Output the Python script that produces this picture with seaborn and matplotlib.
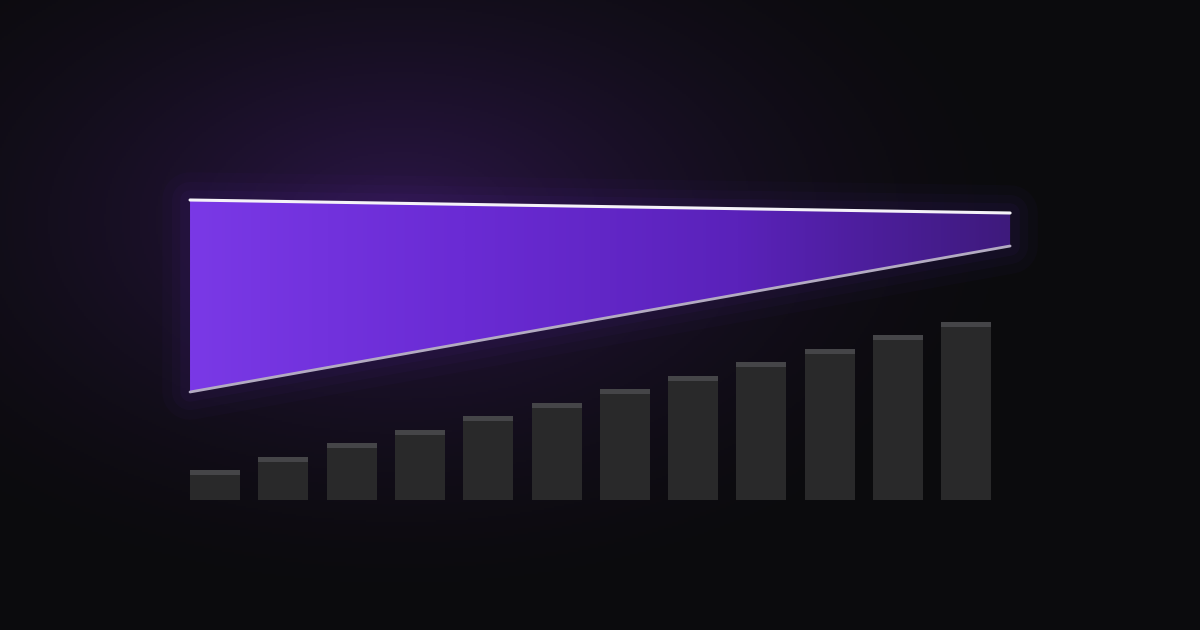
import numpy as np
import matplotlib.pyplot as plt
import seaborn as sns
from matplotlib.colors import LinearSegmentedColormap
from matplotlib.patches import Polygon

# Data
periods = list(range(1, 13))
bar_values = [30, 43, 57, 70, 84, 97, 111, 124, 138, 151, 165, 178]
span_x = [0.634, 12.64]          # start / end of the band (in periods)
band_upper = [300, 287]
band_lower = [108, 254]
cap_size = 5

sns.set_theme(style="dark")
plt.rcParams['font.family'] = ['DejaVu Sans']

fig = plt.figure(figsize=(12, 6.3), dpi=100)
ax = fig.add_axes([0, 0, 1, 1])
ax.set_xlim(-2.148, 15.42)
ax.set_ylim(-130, 500)
ax.axis("off")

# background with radial purple glow
gx, gy = np.meshgrid(np.linspace(-2.148, 15.42, 600), np.linspace(-130, 500, 315))
px = (gx + 2.148) / 17.568 * 1200
py = (500 - gy)
r = np.sqrt(((px - 400) / 660) ** 2 + ((py - 220) / 400) ** 2)
glow = np.clip(1 - r, 0, 1) ** 1.7
bg = np.zeros(gx.shape + (3,))
base = np.array([11, 11, 13]) / 255
hot = np.array([44, 22, 72]) / 255
bg[:] = base + glow[..., None] * (hot - base)
ax.imshow(bg, extent=(-2.148, 15.42, -130, 500), origin="lower", aspect="auto", zorder=0)

# bars: cap colour first, body on top
sns.barplot(x=periods, y=bar_values, native_scale=True, width=0.732,
            color="#454548", saturation=1, linewidth=0, edgecolor="none", ax=ax, zorder=2)
sns.barplot(x=periods, y=[v - cap_size for v in bar_values], native_scale=True, width=0.732,
            color="#29292a", saturation=1, linewidth=0, edgecolor="none", ax=ax, zorder=3)
ax.set_xlim(-2.148, 15.42)
ax.set_ylim(-130, 500)
ax.axis("off")

# soft glow under the band
poly_pts = [(span_x[0], band_upper[0]), (span_x[1], band_upper[1]),
            (span_x[1], band_lower[1]), (span_x[0], band_lower[0])]
for lw, a in [(40, 0.03), (26, 0.04), (14, 0.05)]:
    ax.add_patch(Polygon(poly_pts, closed=True, facecolor="none",
                         edgecolor="#6a2fd0", lw=lw, alpha=a, joinstyle="round", zorder=4))

# gradient band
poly = Polygon(poly_pts, closed=True, facecolor="none", edgecolor="none", zorder=5)
ax.add_patch(poly)
cmap = LinearSegmentedColormap.from_list("band", ["#7a39e6", "#6a2bd4", "#5a22ba", "#3e1a7c"])
grad = np.linspace(0, 1, 512).reshape(1, -1)
im = ax.imshow(grad, cmap=cmap, extent=(span_x[0], span_x[1], min(band_lower), max(band_upper)),
               aspect="auto", zorder=5)
im.set_clip_path(poly)

sns.lineplot(x=span_x, y=band_upper, color="#f4f2f8", lw=2.2, ax=ax, zorder=6)
sns.lineplot(x=span_x, y=band_lower, color="#b3abc2", lw=2.0, ax=ax, zorder=6)

ax.set_xlim(-2.148, 15.42)
ax.set_ylim(-130, 500)
ax.axis("off")

fig.savefig("out.png", dpi=100, facecolor="#0c0c0e")
